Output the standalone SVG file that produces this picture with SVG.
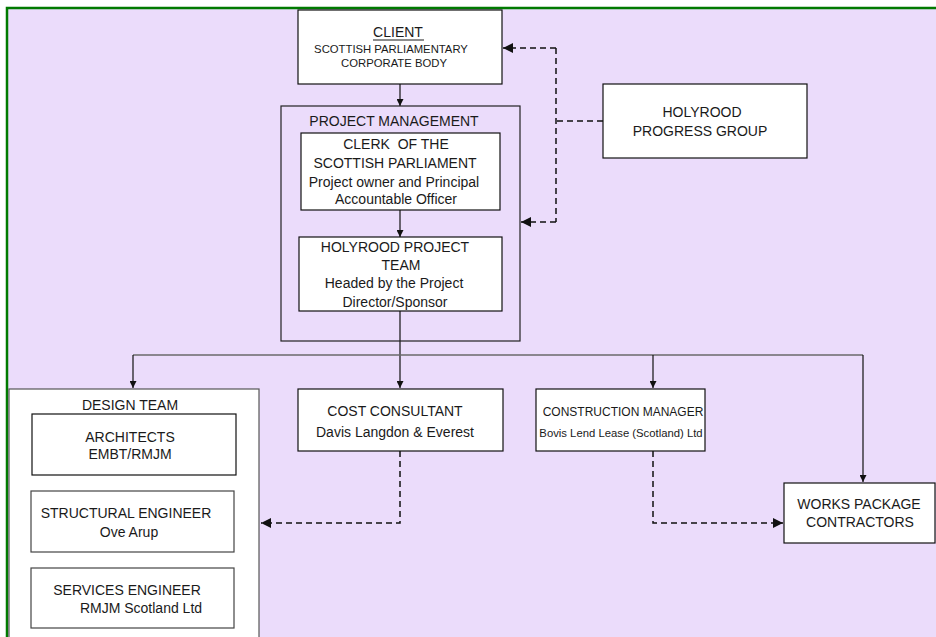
<svg xmlns="http://www.w3.org/2000/svg" width="936" height="637" viewBox="0 0 936 637">
<style>
  .box{fill:#fff;stroke:#111;stroke-width:1.2}
  .gbox{fill:none;stroke:#222;stroke-width:1.2}
  .t{font-family:"Liberation Sans",Arial,sans-serif;font-size:14px;fill:#1a1a1a;text-anchor:middle}
  .s{font-size:11.3px}
  .m{font-size:12px}
  .ln{fill:none;stroke:#111;stroke-width:1.2}
  .bus{fill:none;stroke:#6a6a6a;stroke-width:1.5}
  .dash{fill:none;stroke:#111;stroke-width:1.5;stroke-dasharray:6,4}
</style>
<defs>
  <marker id="a" viewBox="0 0 10 10" refX="10" refY="5" markerWidth="7" markerHeight="7" markerUnits="userSpaceOnUse" orient="auto">
    <path d="M0,0 L10,5 L0,10 z" fill="#111"/>
  </marker>
  <marker id="b" viewBox="0 0 10 10" refX="10" refY="5" markerWidth="10" markerHeight="10" markerUnits="userSpaceOnUse" orient="auto">
    <path d="M0,0 L10,5 L0,10 z" fill="#111"/>
  </marker>
</defs>
<rect x="0" y="0" width="936" height="637" fill="#fff"/>
<rect x="7" y="8" width="929" height="629" fill="#EBDCFB"/>
<path d="M7,637 V8 H936" fill="none" stroke="#007A00" stroke-width="2.5"/>

<g id="connectors">
  <path class="ln" d="M400,84 V106" marker-end="url(#a)"/>
  <path class="ln" d="M400,210 V237" marker-end="url(#a)"/>
  <path class="ln" d="M400,311 V388" marker-end="url(#a)"/>
  <path class="bus" d="M133,355 H863"/>
  <path class="ln" d="M133,355 V388" marker-end="url(#a)"/>
  <path class="ln" d="M653,355 V388" marker-end="url(#a)"/>
  <path class="ln" d="M863,355 V482" marker-end="url(#a)"/>
  <path class="dash" d="M603,121 H556"/>
  <path class="dash" d="M556,48 V222"/>
  <path class="dash" d="M556,48 H503" marker-end="url(#b)"/>
  <path class="dash" d="M556,222 H521" marker-end="url(#b)"/>
  <path class="dash" d="M400,451 V523 H261" marker-end="url(#b)"/>
  <path class="dash" d="M653,451 V523 H783" marker-end="url(#b)"/>
</g>

<g id="client">
  <rect class="box" x="298" y="10" width="204" height="74"/>
  <text class="t" x="398" y="37">CLIENT</text>
  <line x1="373" y1="40" x2="424" y2="40" stroke="#1a1a1a" stroke-width="1"/>
  <text class="t s" x="391" y="53">SCOTTISH PARLIAMENTARY</text>
  <text class="t s" x="394" y="67">CORPORATE BODY</text>
</g>

<g id="project-management">
  <rect class="gbox" x="281" y="106" width="239" height="235"/>
  <text class="t" x="394" y="126">PROJECT MANAGEMENT</text>
</g>

<g id="clerk">
  <rect class="box" x="301" y="133" width="199" height="77"/>
  <text class="t" x="396" y="149">CLERK&#160; OF THE</text>
  <text class="t" x="395" y="168">SCOTTISH PARLIAMENT</text>
  <text class="t" x="394" y="187">Project owner and Principal</text>
  <text class="t" x="396" y="204">Accountable Officer</text>
</g>

<g id="project-team">
  <rect class="box" x="299" y="237" width="203" height="74"/>
  <text class="t" x="395" y="252">HOLYROOD PROJECT</text>
  <text class="t" x="401" y="270">TEAM</text>
  <text class="t" x="394" y="288">Headed by the Project</text>
  <text class="t" x="395" y="307">Director/Sponsor</text>
</g>

<g id="progress-group">
  <rect class="box" x="603" y="84" width="204" height="74"/>
  <text class="t" x="702" y="117">HOLYROOD</text>
  <text class="t" x="700" y="136">PROGRESS GROUP</text>
</g>

<g id="design-team">
  <rect x="9" y="389" width="250" height="260" fill="#fff" stroke="#555" stroke-width="1.2"/>
  <text class="t" x="130" y="410">DESIGN TEAM</text>
</g>

<g id="architects">
  <rect class="box" x="32" y="414" width="204" height="61"/>
  <text class="t" x="130" y="442">ARCHITECTS</text>
  <text class="t" x="130" y="459">EMBT/RMJM</text>
</g>

<g id="structural">
  <rect x="31" y="491" width="203" height="61" fill="#fff" stroke="#444" stroke-width="1.2"/>
  <text class="t" x="126" y="518">STRUCTURAL ENGINEER</text>
  <text class="t" x="129" y="537">Ove Arup</text>
</g>

<g id="services">
  <rect x="31" y="568" width="203" height="60" fill="#fff" stroke="#444" stroke-width="1.2"/>
  <text class="t" x="127" y="595">SERVICES ENGINEER</text>
  <text class="t" x="141" y="613">RMJM Scotland Ltd</text>
</g>

<g id="cost-consultant">
  <rect class="box" x="298" y="389" width="205" height="62"/>
  <text class="t" x="395" y="416">COST CONSULTANT</text>
  <text class="t" x="395" y="437">Davis Langdon &amp; Everest</text>
</g>

<g id="construction-manager">
  <rect class="box" x="536" y="389" width="169" height="62"/>
  <text class="t m" x="623" y="416">CONSTRUCTION MANAGER</text>
  <text class="t" x="621" y="437" style="font-size:11.3px">Bovis Lend Lease (Scotland) Ltd</text>
</g>

<g id="works-package">
  <rect class="box" x="784" y="483" width="151" height="60"/>
  <text class="t" x="859" y="509">WORKS PACKAGE</text>
  <text class="t" x="860" y="527">CONTRACTORS</text>
</g>
</svg>
